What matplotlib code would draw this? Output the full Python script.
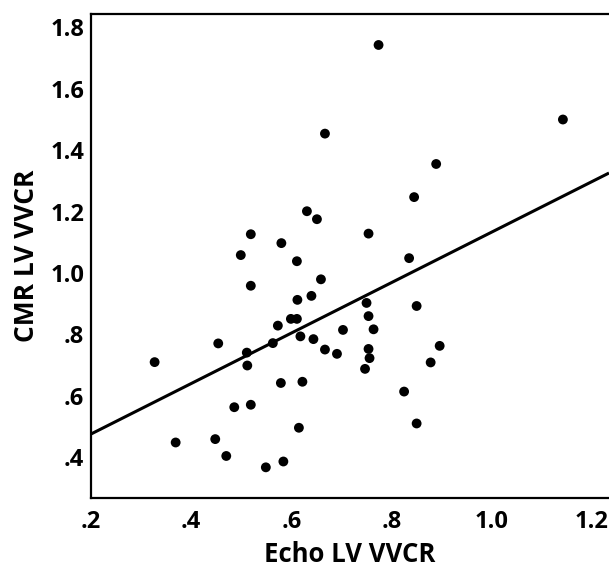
import matplotlib
matplotlib.use("Agg")
import matplotlib.pyplot as plt
import numpy as np

# Data
echo_vvcr = [0.774, 1.142, 0.667, 0.889, 0.845, 0.631, 0.651, 0.754, 0.580, 0.519,
             0.499, 0.611, 0.835, 0.519, 0.659, 0.640, 0.612, 0.750, 0.850, 0.599,
             0.611, 0.573, 0.754, 0.703, 0.764, 0.618, 0.644, 0.563, 0.511, 0.454,
             0.667, 0.691, 0.754, 0.756, 0.512, 0.327, 0.896, 0.878, 0.747, 0.579,
             0.622, 0.825, 0.486, 0.519, 0.615, 0.850, 0.448, 0.369, 0.470, 0.549,
             0.584]
cmr_vvcr = [1.743, 1.500, 1.454, 1.355, 1.247, 1.201, 1.175, 1.128, 1.097, 1.126,
            1.058, 1.038, 1.048, 0.958, 0.979, 0.925, 0.912, 0.902, 0.892, 0.850,
            0.850, 0.828, 0.859, 0.814, 0.816, 0.793, 0.784, 0.771, 0.740, 0.770,
            0.750, 0.736, 0.752, 0.722, 0.698, 0.709, 0.762, 0.708, 0.687, 0.641,
            0.645, 0.613, 0.562, 0.570, 0.495, 0.509, 0.458, 0.447, 0.403, 0.366,
            0.385]
fit_intercept = 0.310
fit_slope = 0.823

x_ticks = [0.2, 0.4, 0.6, 0.8, 1.0, 1.2]
x_ticklabels = [".2", ".4", ".6", ".8", "1.0", "1.2"]
y_ticks = [0.4, 0.6, 0.8, 1.0, 1.2, 1.4, 1.6, 1.8]
y_ticklabels = [".4", ".6", ".8", "1.0", "1.2", "1.4", "1.6", "1.8"]

plt.rcParams['font.family'] = ['Open Sans', 'DejaVu Sans']

fig = plt.figure(figsize=(6.09, 5.69), dpi=100)
ax = fig.add_axes([91/609, 71/569, 518/609, 484/569])

xlim = (0.2, 1.234)
ylim = (0.266, 1.844)
ax.set_xlim(*xlim)
ax.set_ylim(*ylim)

ax.scatter(echo_vvcr, cmr_vvcr, s=50, color='black', edgecolors='none', zorder=3)

xl = np.array(xlim)
ax.plot(xl, fit_intercept + fit_slope * xl, color='black', lw=2.2, zorder=2,
        solid_capstyle='butt')

ax.set_xticks(x_ticks)
ax.set_xticklabels(x_ticklabels)
ax.set_yticks(y_ticks)
ax.set_yticklabels(y_ticklabels)
ax.tick_params(axis='both', length=0, labelsize=17, colors='black')
ax.tick_params(axis='x', pad=9)
ax.tick_params(axis='y', pad=5)
for lab in ax.get_xticklabels() + ax.get_yticklabels():
    lab.set_fontweight('bold')

ax.set_xlabel("Echo LV VVCR", fontsize=18.5, fontweight='bold', labelpad=5)
ax.set_ylabel("CMR LV VVCR", fontsize=19, fontweight='bold', labelpad=7)

for side in ['left', 'top', 'bottom']:
    ax.spines[side].set_linewidth(1.6)
    ax.spines[side].set_color('black')
ax.spines['right'].set_visible(False)

fig.savefig("out.png", dpi=100)
